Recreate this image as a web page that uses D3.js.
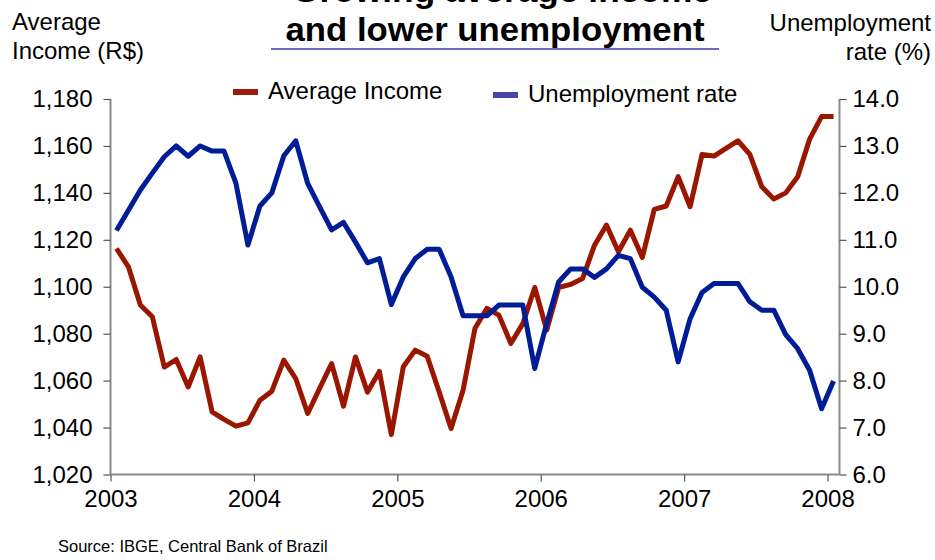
<!DOCTYPE html>
<html>
<head>
<meta charset="utf-8">
<script src="https://cdn.jsdelivr.net/npm/d3@7"></script>
<style>
  html, body { margin: 0; padding: 0; background: #fff; }
  svg { display: block; font-family: "Liberation Sans", Arial, sans-serif; }
</style>
</head>
<body>
<svg id="chart" width="935" height="560"></svg>
<script>
// Monthly series, Jan 2003 – Jan 2008
const averageIncome = [
  1116.3, 1108.5, 1092.2, 1087.2, 1065.8, 1069.0, 1057.3, 1070.1, 1046.7, 1043.5, 1040.6, 1042.0,
  1051.6, 1055.5, 1068.7, 1060.9, 1046.0, 1056.7, 1067.3, 1049.1, 1070.1, 1055.1, 1063.9, 1037.0,
  1065.9, 1073.0, 1070.4, 1055.2, 1039.6, 1055.9, 1082.3, 1090.8, 1087.9, 1075.8, 1084.3, 1099.7,
  1081.5, 1099.7, 1101.0, 1103.5, 1117.7, 1126.3, 1114.9, 1124.1, 1112.5, 1133.0, 1134.4, 1146.9,
  1134.1, 1156.4, 1155.7, 1159.0, 1162.2, 1156.4, 1142.6, 1137.4, 1140.0, 1146.9, 1162.9, 1172.5,
  1172.5
];
const unemploymentRate = [
  11.20, 11.63, 12.06, 12.42, 12.77, 13.00, 12.78, 13.00, 12.89, 12.89, 12.20, 10.89,
  11.72, 12.00, 12.79, 13.11, 12.20, 11.70, 11.21, 11.37, 10.95, 10.51, 10.60, 9.62,
  10.21, 10.60, 10.80, 10.80, 10.21, 9.38, 9.38, 9.38, 9.61, 9.61, 9.61, 8.26,
  9.22, 10.10, 10.38, 10.38, 10.20, 10.38, 10.67, 10.60, 9.99, 9.78, 9.50, 8.40,
  9.32, 9.88, 10.07, 10.07, 10.07, 9.68, 9.50, 9.50, 8.98, 8.68, 8.22, 7.40,
  7.99
];
const yearLabels = ["2003", "2004", "2005", "2006", "2007", "2008"];
const incomeTicks = [1020, 1040, 1060, 1080, 1100, 1120, 1140, 1160, 1180];
const rateTicks = [6, 7, 8, 9, 10, 11, 12, 13, 14];
const seriesNames = ["Average Income", "Unemployment rate"];

const svg = d3.select("#chart");
const plotLeft = 110.5, plotRight = 839.5, plotTop = 99, plotBottom = 474.5;
const axisColor = "#8a8a8a";
const incomeColor = "#9a1600";
const rateColor = "#001c96";
const labelSize = 24;

const x = d3.scaleLinear().domain([0, averageIncome.length]).range([plotLeft, plotRight]);
const yIncome = d3.scaleLinear().domain([1020, 1180]).range([plotBottom, plotTop]);
const yRate = d3.scaleLinear().domain([6, 14]).range([plotBottom, plotTop]);

// Title (first line runs off the top edge)
const title = svg.append("g")
  .attr("font-weight", "bold").attr("font-size", 33).attr("text-anchor", "middle").attr("fill", "#000");
title.append("text").attr("x", 502).attr("y", 2).attr("textLength", 420).attr("lengthAdjust", "spacingAndGlyphs")
  .text("Growing average income");
title.append("text").attr("x", 495).attr("y", 41).attr("textLength", 419).attr("lengthAdjust", "spacingAndGlyphs")
  .text("and lower unemployment");
svg.append("line").attr("x1", 271).attr("x2", 719).attr("y1", 49).attr("y2", 49)
  .attr("stroke", "#3a3aa8").attr("stroke-width", 1.5);

// Axis titles
const axTitle = svg.append("g").attr("font-size", labelSize).attr("fill", "#000");
axTitle.append("text").attr("x", 12).attr("y", 30).text("Average");
axTitle.append("text").attr("x", 12).attr("y", 59).text("Income (R$)");
axTitle.append("text").attr("x", 931).attr("y", 31).attr("text-anchor", "end").text("Unemployment");
axTitle.append("text").attr("x", 931).attr("y", 60).attr("text-anchor", "end").text("rate (%)");

// Axes
const fmtIncome = d3.format(",");
const fmtRate = d3.format(".1f");

const gLeft = svg.append("g").attr("transform", `translate(${plotLeft},0)`)
  .call(d3.axisLeft(yIncome).tickValues(incomeTicks).tickFormat(fmtIncome).tickSize(7).tickPadding(11));
const gRight = svg.append("g").attr("transform", `translate(${plotRight},0)`)
  .call(d3.axisRight(yRate).tickValues(rateTicks).tickFormat(fmtRate).tickSize(7).tickPadding(6));
const gBottom = svg.append("g").attr("transform", `translate(0,${plotBottom})`)
  .call(d3.axisBottom(x).tickValues([0, 12, 24, 36, 48, 60]).tickFormat((d, i) => yearLabels[i]).tickSize(7).tickPadding(8));

[gLeft, gRight, gBottom].forEach(g => {
  g.select(".domain").attr("stroke", axisColor).attr("stroke-width", 2);
  g.selectAll(".tick line").attr("stroke", "#555").attr("stroke-width", 1.2);
  g.selectAll(".tick text").attr("font-size", labelSize).attr("fill", "#000")
    .attr("font-family", "Liberation Sans, Arial, sans-serif");
});
gLeft.select(".domain").attr("d", `M0,${plotTop}V${plotBottom}`);
gRight.select(".domain").attr("d", `M0,${plotTop}V${plotBottom}`);
gBottom.select(".domain").attr("d", `M${plotLeft},0H${plotRight}`);

// Series lines
const lineIncome = d3.line().x((d, i) => x(i + 0.5)).y(d => yIncome(d));
const lineRate = d3.line().x((d, i) => x(i + 0.5)).y(d => yRate(d));

svg.append("path").datum(averageIncome).attr("d", lineIncome)
  .attr("fill", "none").attr("stroke", incomeColor).attr("stroke-width", 5)
  .attr("stroke-linejoin", "round");
svg.append("path").datum(unemploymentRate).attr("d", lineRate)
  .attr("fill", "none").attr("stroke", rateColor).attr("stroke-width", 5)
  .attr("stroke-linejoin", "round");

// Legend
const legend = svg.append("g").attr("font-size", labelSize).attr("fill", "#000");
const legendItems = [
  { name: seriesNames[0], color: "#9b1c0c", sx: 233, tx: 268, y: 92 },
  { name: seriesNames[1], color: "#4646aa", sx: 493, tx: 528, y: 95 }
];
legendItems.forEach(it => {
  legend.append("rect").attr("x", it.sx).attr("y", it.y - 3).attr("width", 25).attr("height", 6).attr("fill", it.color);
  legend.append("text").attr("x", it.tx).attr("y", it.y + 7).text(it.name);
});

// Source note
svg.append("text").attr("x", 58).attr("y", 552).attr("font-size", 16.5).attr("fill", "#000")
  .text("Source: IBGE, Central Bank of Brazil");
</script>
</body>
</html>
